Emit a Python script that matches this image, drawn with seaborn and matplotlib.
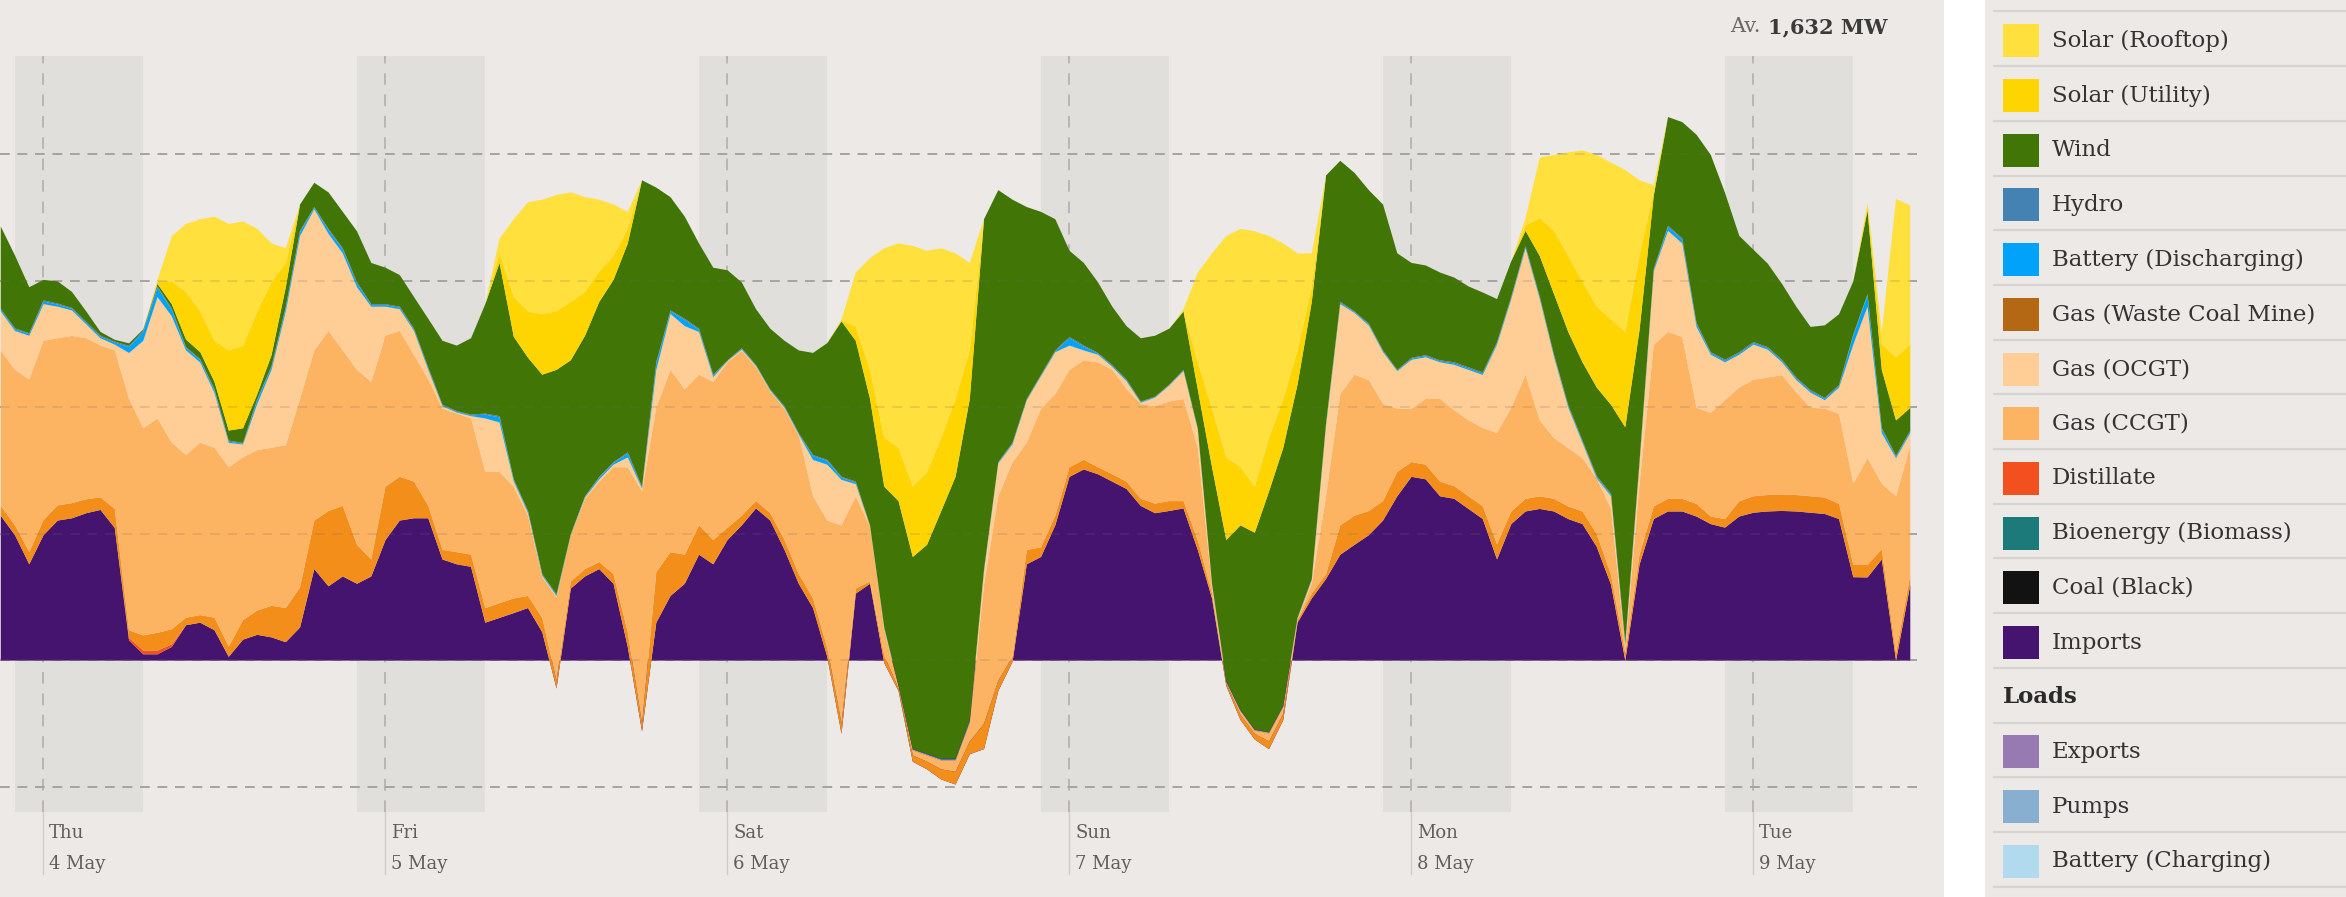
import numpy as np
import pandas as pd
import matplotlib
matplotlib.use("Agg")
import matplotlib.pyplot as plt
from matplotlib.patches import Rectangle
import seaborn as sns

# hourly readings (MW), Wed 3 May 21:00 -> Tue 9 May 11:00
times = pd.date_range("2023-05-03 21:00", periods=135, freq="h")

imports = [573, 496, 381, 496, 554, 563, 583, 596, 525,
           80, 25, 25, 54, 140, 150, 120, 15, 83, 102, 92, 73,
           131, 362, 294, 333, 304, 333, 477, 554, 563, 563, 400, 381,
           371, 150, 169, 188, 208, 112, -110, 285, 333, 362, 304, 54,
           -280, 150, 256, 304, 419, 381, 477, 535, 602, 554, 438, 304,
           208, 15, -290, 265, 304, -10, -120, -400, -430, -470, -490, -370,
           -350, -120, -5, 381, 410, 535, 727, 756, 737, 708, 679, 612,
           583, 592, 602, 438, 246, -100, -235, -312, -350, -235, 150, 246,
           323, 419, 458, 496, 554, 650, 727, 717, 650, 640, 600, 560,
           400, 540, 590, 600, 590, 560, 540, 450, 300, 0, 380, 560,
           590, 590, 570, 540, 526, 570, 585, 590, 592, 590, 585, 580,
           560, 330, 329, 400, 0, 300]

distillate = [0, 0, 0, 0, 0, 0, 0, 0, 0,
              10, 15, 15, 10, 0, 0, 0, 0, 0, 0, 0, 0] + [0] * 114

gas_steam = [39, 39, 48, 60, 60, 60, 55, 50, 75,
             30, 60, 70, 60, 30, 30, 50, 40, 77, 96, 125, 135,
             159, 192, 298, 279, 154, 67, 211, 173, 145, 49, 38, 48,
             48, 58, 58, 58, 48, 57, 30, 28, 29, 28, 38, 58,
             30, 200, 173, 115, 116, 96, 48, 38, 29, 29, 39, 38,
             38, 35, 40, 20, 9, 30, 10, 25, 30, 40, 50, 50,
             100, 40, 20, 57, 38, 38, 38, 38, 28, 29, 29, 28,
             38, 39, 29, 39, 19, 10, 20, 22, 30, 25, 10, 19,
             19, 116, 115, 96, 77, 96, 58, 58, 58, 50, 50, 50,
             60, 50, 50, 50, 50, 50, 50, 50, 40, 30, 40, 50,
             50, 50, 50, 30, 34, 60, 65, 65, 65, 65, 65, 65,
             60, 50, 51, 40, 30, 40]

gas_ccgt = [615, 615, 683, 709, 661, 661, 637, 600, 627,
            915, 819, 848, 738, 643, 682, 672, 710, 644, 635, 625, 644,
            745, 673, 712, 615, 692, 702, 597, 577, 500, 500, 558, 548,
            539, 538, 519, 442, 317, 161, 330, 183, 278, 318, 423, 653,
            920, 650, 721, 654, 596, 625, 655, 652, 529, 482, 518, 548,
            404, 504, 785, 365, 217, 100, 10, 20, 25, 35, 45, 75,
            550, 730, 770, 424, 548, 481, 385, 394, 414, 413, 365, 375,
            385, 394, 404, 365, 29, 5, 15, 13, 32, 28, 5, 39,
            308, 519, 558, 518, 384, 250, 211, 260, 327, 300, 300, 310,
            440, 410, 490, 300, 240, 230, 210, 220, 260, 20, 280, 638,
            660, 640, 380, 410, 470, 450, 460, 465, 472, 405, 350, 352,
            355, 320, 420, 260, 620, 510]

gas_ocgt = [154, 154, 173, 145, 125, 101, 55, 29, 23,
            182, 346, 480, 500, 414, 317, 216, 96, 51, 182, 308, 529,
            645, 558, 384, 384, 327, 298, 115, 86, 96, 38, 10, 4,
            9, 212, 196, 20, 10, 5, 5, 0, 5, 9, 10, 39,
            10, 150, 221, 250, 169, 19, 5, 5, 5, 3, 5, 4,
            144, 221, 180, 48, 2, 5, 0, 3, 3, 3, 3, 5,
            55, 130, 70, 168, 129, 166, 96, 39, 31, 12, 32, 5,
            34, 63, 110, 73, 6, 2, 2, 2, 3, 2, 2, 14,
            280, 356, 244, 215, 205, 149, 194, 165, 145, 180, 200, 210,
            350, 430, 500, 480, 320, 160, 60, 0, 50, 10, 80, 292,
            400, 370, 320, 230, 150, 130, 140, 110, 51, 50, 60, 33,
            105, 550, 600, 200, 150, 50]

battery = [6, 6, 6, 10, 8, 6, 6, 6, 8,
           23, 35, 37, 25, 9, 9, 10, 5, 3, 15, 11, 15,
           15, 5, 15, 15, 15, 6, 6, 6, 5, 6, 3, 3,
           3, 15, 20, 5, 5, 4, 4, 2, 3, 6, 6, 15,
           4, 25, 10, 24, 9, 6, 1, 3, 2, 3, 3, 3,
           15, 15, 8, 6, 1, 3, 0, 1, 1, 2, 2, 3,
           4, 3, 4, 3, 3, 4, 29, 15, 4, 4, 4, 3,
           2, 2, 3, 2, 2, 1, 1, 1, 1, 1, 1, 3,
           4, 5, 3, 4, 3, 2, 4, 4, 4, 5, 5, 5,
           5, 5, 5, 5, 5, 5, 5, 5, 5, 5, 5, 5,
           15, 15, 10, 5, 5, 5, 5, 5, 5, 5, 5, 5,
           5, 35, 45, 15, 5, 5]

hydro = [4, 4, 4, 5, 4, 4, 4, 4, 4,
         5, 5, 5, 5, 4, 4, 5, 4, 3, 5, 4, 4,
         5, 4, 4, 5, 4, 4, 4, 4, 4, 4, 3, 3,
         3, 4, 5, 4, 4, 3, 3, 2, 2, 4, 4, 4,
         4, 5, 4, 5, 4, 4, 2, 3, 2, 2, 3, 3,
         4, 4, 4, 4, 2, 3, 0, 1, 2, 2, 2, 2,
         3, 2, 3, 2, 3, 3, 5, 4, 3, 3, 3, 2,
         2, 2, 2, 2, 2, 1, 1, 1, 1, 2, 1, 2,
         4, 4, 3, 4, 4, 3, 4, 4, 4, 5, 5, 5,
         5, 5, 5, 5, 5, 5, 5, 5, 5, 5, 5, 5,
         5, 5, 5, 5, 5, 5, 5, 5, 5, 5, 5, 5,
         5, 5, 5, 5, 5, 5]

wind = [326, 288, 182, 81, 88, 63, 41, 15, 7,
        10, 5, 10, 18, 30, 28, 29, 40, 58, 19, 43, 77,
        104, 96, 145, 144, 202, 163, 144, 125, 125, 192, 253, 259,
        302, 433, 606, 564, 606, 789, 888, 688, 635, 692, 721, 827,
        1212, 691, 448, 404, 337, 423, 356, 260, 221, 240, 259, 327,
        404, 462, 615, 557, 500, 557, 731, 760, 827, 980, 1115, 1270,
        1384, 1076, 961, 759, 644, 519, 341, 327, 279, 231, 211, 250,
        241, 221, 231, 154, 461, 558, 731, 779, 952, 1019, 923, 1096,
        981, 558, 548, 528, 577, 461, 375, 355, 347, 335, 320, 316,
        170, 140, 60, 160, 240, 290, 310, 350, 352, 853, 518, 290,
        430, 460, 745, 780, 660, 460, 365, 330, 300, 280, 250, 286,
        280, 210, 330, 230, 140, 90]

solar_utility = [0, 0, 0, 0, 0, 0, 0, 0, 0,
                 0, 0, 10, 90, 188, 161, 163, 317, 327, 327, 288, 96,
                 0, 0, 0, 0, 0, 0, 0, 0, 0, 0, 0, 0,
                 0, 0, 38, 157, 183, 240, 231, 231, 173, 120, 94, 58,
                 0, 0, 0, 0, 0, 0, 0, 0, 0, 0, 0, 0,
                 0, 0, 3, 55, 115, 193, 211, 278, 288, 289, 308, 192,
                 0, 0, 0, 0, 0, 0, 0, 0, 0, 0, 0, 0,
                 0, 0, 4, 107, 231, 327, 230, 182, 212, 193, 135, 58,
                 0, 0, 0, 0, 0, 0, 0, 0, 0, 0, 0, 0,
                 0, 0, 20, 150, 250, 300, 320, 320, 338, 377, 292, 20,
                 0, 0, 0, 0, 0, 0, 0, 0, 0, 0, 0, 0,
                 0, 0, 20, 100, 250, 250]

solar_rooftop = [0, 0, 0, 0, 0, 0, 0, 0, 0,
                 0, 0, 6, 179, 269, 365, 491, 500, 491, 327, 154, 58,
                 0, 0, 0, 0, 0, 0, 0, 0, 0, 0, 0, 0,
                 0, 0, 58, 308, 432, 452, 461, 433, 375, 284, 204, 67,
                 0, 0, 0, 0, 0, 0, 0, 0, 0, 0, 0, 0,
                 0, 0, 5, 215, 442, 750, 808, 952, 875, 750, 576, 346,
                 0, 0, 0, 0, 0, 0, 0, 0, 0, 0, 0, 0,
                 0, 0, 5, 355, 615, 875, 943, 1010, 798, 615, 384, 134,
                 0, 0, 0, 0, 0, 0, 0, 0, 0, 0, 0, 0,
                 0, 0, 30, 240, 300, 410, 518, 600, 620, 640, 300, 20,
                 0, 0, 0, 0, 0, 0, 0, 0, 0, 0, 0, 0,
                 0, 0, 10, 50, 626, 550]

day_names = ["Thu", "Fri", "Sat", "Sun", "Mon", "Tue"]
day_dates = ["4 May", "5 May", "6 May", "7 May", "8 May", "9 May"]

legend_names = ["Solar (Rooftop)", "Solar (Utility)", "Wind", "Hydro",
                "Battery (Discharging)", "Gas (Waste Coal Mine)", "Gas (OCGT)",
                "Gas (CCGT)", "Distillate", "Bioenergy (Biomass)", "Coal (Black)",
                "Imports", "Loads", "Exports", "Pumps", "Battery (Charging)"]
legend_colors = ["#FFE03D", "#FED500", "#417505", "#4582B4", "#00A2FA",
                 "#B46813", "#FFCD96", "#FDB462", "#F35020", "#1D7A7A",
                 "#121212", "#44146F", None, "#977AB1", "#88AFD0", "#B2DAEF"]

BG = "#ECE9E6"
BAND = "#E1DFDC"

sns.set_theme(style="white")
plt.rcParams["font.family"] = ["DejaVu Serif"]

fig = plt.figure(figsize=(23.46, 8.97), dpi=100)
fig.patch.set_facecolor("white")

ax = fig.add_axes([0, 0, 1944 / 2346, 1])
ax.set_facecolor(BG)
for s in ax.spines.values():
    s.set_visible(False)
ax.set_xticks([])
ax.set_yticks([])

day0 = pd.Timestamp("2023-05-04")
hr = pd.Timedelta(hours=1)
ax.set_xlim(day0 - 3.02 * hr, day0 + 133.4 * hr)
ax.set_ylim(-937, 2611)

# night shading, day lines and labels
for d in range(6):
    mid = day0 + pd.Timedelta(days=d)
    ax.fill_between([mid - 2 * hr, mid + 7 * hr], -600, 2390, color=BAND, lw=0, zorder=0)
    ax.plot([mid, mid], [-600, 2390], color="#B8B5B2", lw=1.4, ls=(0, (6, 5)), zorder=1)
    ax.plot([mid, mid], [-600, -845], color="#CFCCC9", lw=1.0, zorder=1)
    ax.text(mid + 0.42 * hr, -683, day_names[d], fontsize=13, color="#605E5C",
            ha="left", va="center")
    ax.text(mid + 0.42 * hr, -805, day_dates[d], fontsize=13, color="#605E5C",
            ha="left", va="center")

# dashed horizontal guides (under the areas, then faintly over them)
xg = [times[0], times[-1] + 0.5 * hr]
for v in [-500, 0, 500, 1000, 1500, 2000]:
    ax.plot(xg, [v, v], color="#B3B0AD", lw=1.4, ls=(0, (5, 4)), zorder=1.5)
    ax.plot(xg, [v, v], color="#6E6B68", alpha=0.18, lw=1.4, ls=(0, (5, 4)), zorder=3)

layers = [imports, distillate, gas_steam, gas_ccgt, gas_ocgt, battery, hydro,
          wind, solar_utility, solar_rooftop]
layer_colors = ["#44146F", "#F35020", "#F48E1B", "#FDB462", "#FFCD96", "#00A2FA",
                "#4582B4", "#417505", "#FED500", "#FFE03D"]
ax.stackplot(times.to_pydatetime(), np.array(layers, dtype=float), colors=layer_colors,
             linewidth=0, zorder=2)

# average label
t_bold = fig.text(1887 / 2346, 1 - 27 / 897, "1,632 MW", ha="right", va="center",
                  fontsize=15, fontweight="bold", color="#3A3A3A")
fig.canvas.draw()
bb = t_bold.get_window_extent()
fig.text((bb.x0 - 7) / fig.bbox.width, 1 - 27 / 897, "Av.", ha="right", va="center",
         fontsize=15, color="#6A6866")

# legend panel
lax = fig.add_axes([1985 / 2346, 0, 361 / 2346, 1])
lax.set_facecolor(BG)
for s in lax.spines.values():
    s.set_visible(False)
lax.set_xticks([])
lax.set_yticks([])
lax.set_xlim(0, 361)
lax.set_ylim(897, 0)

step = 54.7
for k in range(17):
    y = 11.5 + k * step
    lax.plot([9, 361], [y, y], color="#D6D3D0", lw=1.6)
for k, (name, col) in enumerate(zip(legend_names, legend_colors)):
    yc = 13.5 + step / 2 + k * step
    if col is None:
        lax.text(18, yc, name, fontsize=16.5, fontweight="bold", color="#2A2A2A",
                 ha="left", va="center")
    else:
        lax.add_patch(Rectangle((18, yc - 16.5), 36, 33, color=col, lw=0))
        lax.text(67, yc, name, fontsize=16.5, color="#333333", ha="left", va="center")

fig.savefig("out.png", dpi=100, facecolor="white")
